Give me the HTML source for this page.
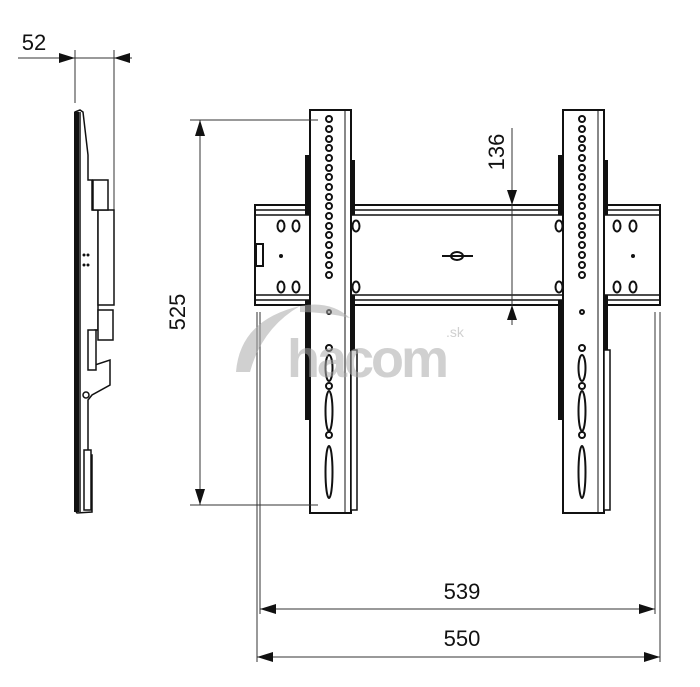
<!DOCTYPE html>
<html><head><meta charset="utf-8"><style>html,body{margin:0;padding:0;background:#fff}svg{display:block}</style></head>
<body>
<svg width="700" height="687" viewBox="0 0 700 687" xmlns="http://www.w3.org/2000/svg" font-family="Liberation Sans, sans-serif">
<defs>
<g id="up">
  <rect x="0" y="0" width="41" height="403" fill="#fff" stroke="#111" stroke-width="2"/>
  <line x1="35" y1="0" x2="35" y2="403" stroke="#111" stroke-width="1"/>
  <g fill="#fff" stroke="#111" stroke-width="2">
    <circle cx="19" cy="9" r="3"/><circle cx="19" cy="19" r="3"/><circle cx="19" cy="29" r="3"/><circle cx="19" cy="38" r="3"/><circle cx="19" cy="48" r="3"/><circle cx="19" cy="58" r="3"/><circle cx="19" cy="67" r="3"/><circle cx="19" cy="77" r="3"/><circle cx="19" cy="87" r="3"/><circle cx="19" cy="96" r="3"/><circle cx="19" cy="106" r="3"/><circle cx="19" cy="116" r="3"/><circle cx="19" cy="125" r="3"/><circle cx="19" cy="135" r="3"/><circle cx="19" cy="145" r="3"/><circle cx="19" cy="155" r="3"/><circle cx="19" cy="165" r="3"/>
    <circle cx="19" cy="202" r="2"/>
    <circle cx="19" cy="238" r="3"/>
    <ellipse cx="19" cy="258" rx="3.5" ry="13"/>
    <circle cx="19" cy="276" r="3"/>
    <ellipse cx="19" cy="301" rx="3.5" ry="20"/>
    <circle cx="19" cy="325" r="3"/>
    <ellipse cx="19" cy="362" rx="3.5" ry="26"/>
  </g>
  <rect x="-5" y="45" width="5" height="60" fill="#111"/>
  <rect x="41" y="50" width="4" height="55" fill="#111"/>
  <rect x="-5" y="190" width="4" height="120" fill="#111"/>
  <rect x="41" y="185" width="4" height="60" fill="#111"/>
  <rect x="41" y="240" width="6" height="160" fill="#fff" stroke="#111" stroke-width="1.5"/>
</g>
</defs>
<!-- rail -->
<rect x="255" y="205" width="405" height="100" fill="#fff" stroke="#111" stroke-width="2"/>
<line x1="255" y1="210" x2="660" y2="210" stroke="#111" stroke-width="1.5"/>
<line x1="255" y1="215" x2="660" y2="215" stroke="#111" stroke-width="1.5"/>
<line x1="255" y1="295" x2="660" y2="295" stroke="#111" stroke-width="1.5"/>
<line x1="255" y1="300" x2="660" y2="300" stroke="#111" stroke-width="1.5"/>
<g fill="#fff" stroke="#111" stroke-width="2">
  <ellipse cx="281" cy="226" rx="3.5" ry="5.5"/><ellipse cx="296" cy="226" rx="3.5" ry="5.5"/>
  <ellipse cx="281" cy="287" rx="3.5" ry="5.5"/><ellipse cx="296" cy="287" rx="3.5" ry="5.5"/>
  <ellipse cx="617" cy="226" rx="3.5" ry="5.5"/><ellipse cx="633" cy="226" rx="3.5" ry="5.5"/>
  <ellipse cx="617" cy="287" rx="3.5" ry="5.5"/><ellipse cx="633" cy="287" rx="3.5" ry="5.5"/>
  <ellipse cx="356" cy="226" rx="3.5" ry="5.5"/><ellipse cx="356" cy="287" rx="3.5" ry="5.5"/>
  <ellipse cx="559" cy="226" rx="3.5" ry="5.5"/><ellipse cx="559" cy="287" rx="3.5" ry="5.5"/>
  <ellipse cx="457" cy="256" rx="6" ry="4"/>
</g>
<line x1="442" y1="256" x2="473" y2="256" stroke="#111" stroke-width="2"/>
<rect x="256" y="244" width="7" height="22" fill="#fff" stroke="#111" stroke-width="2"/>
<circle cx="281" cy="256" r="2" fill="#111"/><circle cx="633" cy="256" r="2" fill="#111"/>
<use href="#up" x="310" y="110"/>
<use href="#up" x="563" y="110"/>
<!-- dims -->
<g stroke="#333" stroke-width="1" fill="none">
<line x1="190" y1="120" x2="318" y2="120"/><line x1="190" y1="505" x2="318" y2="505"/>
<line x1="200" y1="120" x2="200" y2="505"/>
<line x1="512" y1="128" x2="512" y2="325"/>
<line x1="257" y1="312" x2="257" y2="662"/><line x1="260" y1="312" x2="260" y2="614"/>
<line x1="655" y1="312" x2="655" y2="614"/><line x1="660" y1="312" x2="660" y2="662"/>
<line x1="260" y1="609" x2="655" y2="609"/><line x1="257" y1="657" x2="660" y2="657"/>
<line x1="18" y1="58" x2="132" y2="58"/>
<line x1="75" y1="50" x2="75" y2="103"/><line x1="114" y1="50" x2="114" y2="210"/>
</g>
<g fill="#111">
<polygon points="200,120 195,136 205,136"/><polygon points="200,505 195,489 205,489"/>
<polygon points="512,205 507,190 517,190"/><polygon points="512,305 507,320 517,320"/>
<polygon points="260,609 276,604 276,614"/><polygon points="655,609 639,604 639,614"/>
<polygon points="257,657 273,652 273,662"/><polygon points="660,657 644,652 644,662"/>
<polygon points="75,58 59,53 59,63"/><polygon points="114,58 130,53 130,63"/>
</g>
<g font-size="22" fill="#111" text-anchor="middle">
<text x="462" y="599">539</text>
<text x="462" y="646">550</text>
<text x="34" y="50">52</text>
<text transform="translate(185,312) rotate(-90)">525</text>
<text transform="translate(504,152) rotate(-90)">136</text>
</g>
<!-- side profile -->
<g stroke="#111" stroke-width="1.5" fill="#fff">
<polygon points="75,112 80,110 83,112 88,155 88,180 92,180 92,210 98,210 98,330 95,330 95,365 110,360 110,385 92,395 88,400 88,455 92,455 92,512 77,513 75,510"/>
<line x1="80" y1="112" x2="80" y2="512"/>
<rect x="98" y="210" width="16" height="95"/>
<rect x="93" y="180" width="15" height="30"/>
<rect x="98" y="310" width="15" height="30"/>
<rect x="84" y="450" width="7" height="60"/>
<rect x="88" y="330" width="8" height="40"/>
</g>
<rect x="74" y="112" width="5" height="400" fill="#111"/>
<circle cx="84" cy="255" r="1.5" fill="#111"/><circle cx="88" cy="255" r="1.5" fill="#111"/><circle cx="84" cy="265" r="1.5" fill="#111"/><circle cx="88" cy="265" r="1.5" fill="#111"/>
<circle cx="86" cy="395" r="3" fill="#fff" stroke="#111" stroke-width="1.5"/>
<!-- watermark -->
<g opacity="0.55" fill="#aaa">
<text x="287" y="377" font-size="54" font-weight="bold" letter-spacing="-3">hacom</text>
<text x="446" y="337" font-size="14">.sk</text>
<path d="M236 372 Q240 320 300 306 Q262 328 250 372 Z"/>
<path d="M300 306 Q330 300 350 318 Q325 312 300 312 Z"/>
</g>
</svg>
</body></html>
